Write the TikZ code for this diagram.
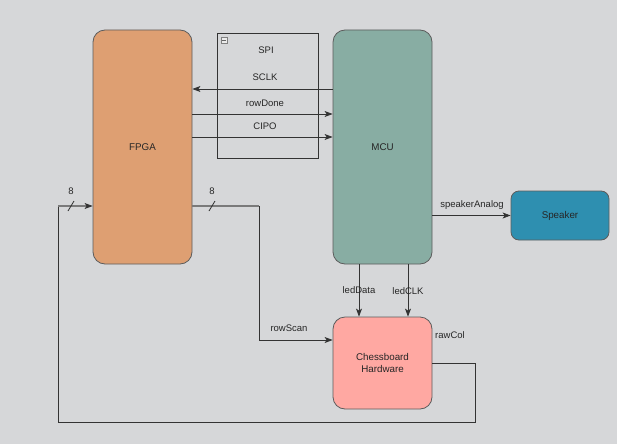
\documentclass[tikz,border=0pt]{standalone}
\usepackage{fontspec}
\setmainfont{Liberation Sans}
\usetikzlibrary{arrows.meta,calc}
\definecolor{bg}{HTML}{D6D7D9}
\definecolor{fpgac}{HTML}{DE9F72}
\definecolor{mcuc}{HTML}{88ADA3}
\definecolor{chessc}{HTML}{FFA8A2}
\definecolor{spkc}{HTML}{2E8FB0}
\definecolor{linec}{HTML}{333333}
\definecolor{busc}{HTML}{7A7A7A}
\tikzset{
  blk/.style={draw=linec!80, line width=0.8pt, rounded corners=12pt, inner sep=0pt, font=\fontsize{9.8}{11.5}\selectfont, text=black!85, align=center},
  lbl/.style={font=\fontsize{9.5}{11}\selectfont, text=black!85, inner sep=0pt},
  arr/.style={draw=linec, line width=0.8pt, -{Stealth[length=8pt,width=6pt,inset=2pt]}},
  wire/.style={draw=linec, line width=0.8pt},
  bus/.style={draw=busc, line width=1.6pt},
  tick/.style={draw=linec, line width=0.8pt}
}
\begin{document}
\begin{tikzpicture}[x=1pt,y=-1pt]
\useasboundingbox (0,0) rectangle (617,444);
\fill[bg] (0,0) rectangle (617,444);
% SPI group box
\draw[linec, line width=0.8pt] (217,33) rectangle (318,158);
\node[draw=black!50, fill=white!85!gray, minimum size=6pt, inner sep=0pt, line width=0.5pt] (minus) at (224,40) {};
\draw[black!60, line width=0.6pt] (222,40) -- (226,40);
\node[lbl] (spi) at (266,50) {SPI};
% blocks
\node[blk, fill=fpgac, minimum width=99pt, minimum height=234pt] (fpga) at (142.5,147) {FPGA};
\node[blk, fill=mcuc, minimum width=99pt, minimum height=234pt] (mcu) at (382.5,147) {MCU};
\node[blk, fill=chessc, minimum width=99pt, minimum height=92pt] (chess) at (382.5,363) {Chessboard\\Hardware};
\node[blk, fill=spkc, rounded corners=8pt, minimum width=98pt, minimum height=49pt] (spk) at (560,215.5) {Speaker};
% SPI signals
\draw[arr] (mcu.west |- 0,89) -- (fpga.east |- 0,89);
\node[lbl] (sclk) at (265,77) {SCLK};
\draw[arr] (fpga.east |- 0,114) -- (mcu.west |- 0,114);
\node[lbl] (rowdone) at (265,103) {rowDone};
\draw[arr] (fpga.east |- 0,137) -- (mcu.west |- 0,137);
\node[lbl] (cipo) at (265,126) {CIPO};
% speaker
\draw[arr] (mcu.east |- spk.west) -- (spk.west);
\node[lbl] (spka) at (472,205) {speakerAnalog};
% led lines
\draw[arr] (mcu.south -| 359,0) -- (chess.north -| 359,0);
\node[lbl] (leddata) at (359,290) {ledData};
\draw[arr] (mcu.south -| 408,0) -- (chess.north -| 408,0);
\node[lbl] (ledclk) at (408,291) {ledCLK};
% rowScan bus
\coordinate (rs1) at (259,206);
\coordinate (rs2) at (259,340);
\draw[bus] (fpga.east |- rs1) -- (rs1);
\draw[wire] (rs1) -- (rs2);
\draw[arr] (rs2) -- (chess.west |- rs2);
\node[lbl] (rowscan) at (289,328) {rowScan};
\draw[tick] (209,211) -- (215,201);
\node[lbl] (eightr) at (212,191) {8};
% rawCol return
\coordinate (rc1) at (475,363);
\coordinate (rc2) at (475,422);
\coordinate (rc3) at (58,422);
\coordinate (rc4) at (58,206);
\draw[wire] (chess.east |- rc1) -- (rc1) -- (rc2) -- (rc3) -- (rc4);
\draw[bus, -{Stealth[length=8pt,width=6pt,inset=2pt,color=linec,line width=0.8pt]}] (rc4) -- (fpga.west |- rc4);
\node[lbl] (rawcol) at (450,335) {rawCol};
\draw[tick] (68,211) -- (74,201);
\node[lbl] (eightl) at (71,191) {8};
\end{tikzpicture}
\end{document}
